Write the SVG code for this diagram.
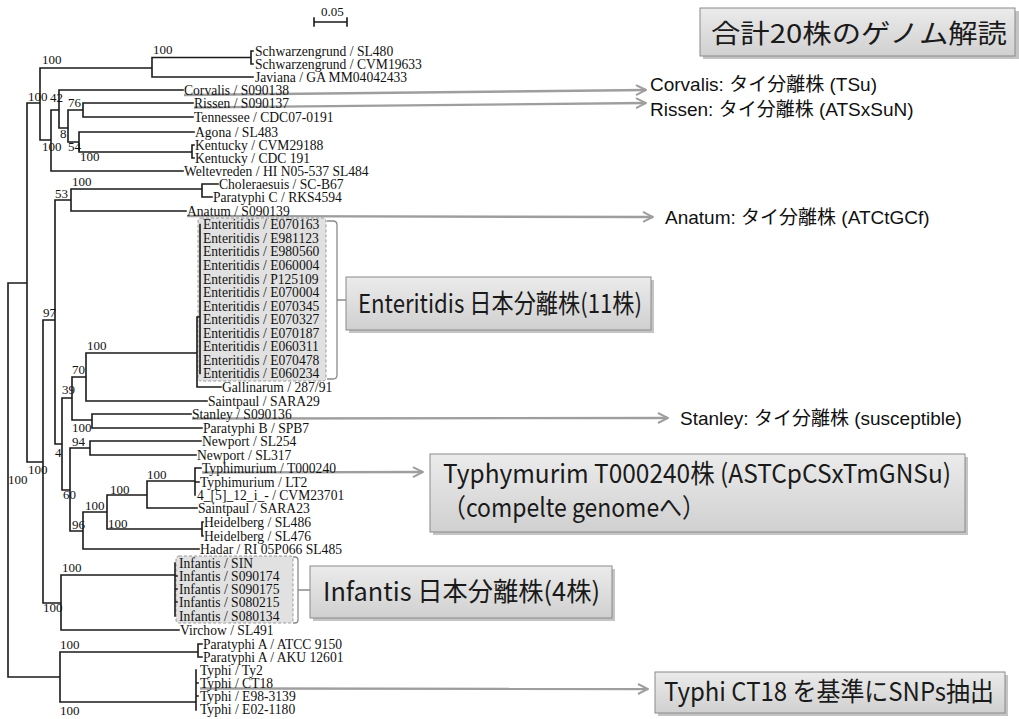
<svg xmlns="http://www.w3.org/2000/svg" width="1019" height="719" viewBox="0 0 1019 719">
<style>
.br{stroke:#1a1a1a;stroke-width:1.6;fill:none;stroke-linecap:square}
.lf{font-family:"Liberation Serif","DejaVu Serif",serif;font-size:13.6px;fill:#111}
.bs{font-family:"Liberation Serif","DejaVu Serif",serif;font-size:13px;fill:#111}
.ar{stroke:#9e9e9e;stroke-width:2.4;fill:none;marker-end:url(#ah)}
.rl{font-family:"Liberation Sans","Noto Sans CJK JP",sans-serif;font-size:19px;fill:#111}
.bx{fill:url(#g);stroke:#8a8a8a;stroke-width:1}
.sh{fill:#c4c4c4}
.bt{font-family:"Noto Sans CJK JP",sans-serif;font-size:26px;fill:#1a1a1a}
.hl{fill:#e1e1e1;stroke:#9a9a9a;stroke-width:1;stroke-dasharray:3 2}
.bk{fill:none;stroke:#8a8a8a;stroke-width:1.3}
</style>
<defs>
<linearGradient id="g" x1="0" y1="0" x2="0" y2="1">
<stop offset="0" stop-color="#ebebeb"/>
<stop offset="1" stop-color="#d0d0d0"/>
</linearGradient>
<marker id="ah" viewBox="0 0 12 12" refX="11" refY="6" markerWidth="12" markerHeight="12" markerUnits="userSpaceOnUse" orient="auto">
<path d="M1,1 L11,6 L1,11" fill="none" stroke="#9e9e9e" stroke-width="2"/>
</marker>
</defs>
<rect width="1019" height="719" fill="#ffffff"/>

<g id="highlights">
<rect class="hl" x="198" y="218" width="128" height="163" rx="3"/>
<path class="bk" d="M327,221 H333 Q337,221 337,225 V375 Q337,379 333,379 H327 M337,300 H346"/>
<rect class="hl" x="176" y="556" width="117" height="67" rx="3"/>
<path class="bk" d="M293,557 H295 Q298,557 298,560 V620 Q298,623 295,623 H293 M298,590 H310"/>
</g>

<g id="scale">
<path class="br" d="M314,22 H347 M314,18 V26 M347,18 V26" stroke-width="1.2"/>
<text class="bs" x="321" y="16" font-size="11">0.05</text>
</g>

<g id="connectors">
<path class="br" d="M8,283 V677 M8,283 H27 M8,677 H60
M27,103 V462 M27,103 H40 M27,462 H43
M40,68 V140 M40,68 H152 M40,140 H51
M152,57.5 V77 M152,57.5 H251 M152,77 H253
M251,51 V64 M251,51 H253 M251,64 H253
M51,110 V171 M51,110 H59 M51,171 H183
M59,90 V128 M59,90 H183 M59,128 H68
M68,110 V142 M68,110 H83 M68,142 H79
M83,103 V117 M83,103 H193 M83,117 H193
M79,132 V152 M79,132 H194 M79,152 H192
M192,145 V158 M192,145 H194 M192,158 H194
M43,320 V603 M43,320 H55 M43,603 H61
M55,200 V444 M55,200 H71 M55,444 H62
M71,189 V211 M71,189 H202 M71,211 H186
M202,184 V197 M202,184 H218 M202,197 H212
M62,398 V490 M62,398 H72 M62,490 H70
M72,377 V420 M72,377 H86 M72,420 H92
M86,353 V401 M86,353 H197 M86,401 H207
M197,317 V387 M197,317 H200 M197,387 H221
M200,224.5 V373.5
M92,414 V428 M92,414 H191 M92,428 H202
M70,448 V531 M70,448 H90 M70,531 H83
M90,441 V455 M90,441 H201 M90,455 H196
M83,512 V549 M83,512 H107 M83,549 H199
M107,495 V529 M107,495 H147 M107,529 H202
M147,481 V508 M147,481 H195 M147,508 H197
M195,468 V495 M195,468 H201 M195,482 H199
M202,522 V536 M202,522 H203 M202,536 H203
M61,575 V630 M61,575 H175 M61,630 H179
M175,563 V616 M175,576 H177 M175,589 H177 M175,602 H177
M60,652 V702 M60,652 H198 M60,702 H196
M198,644 V657 M198,644 H202 M198,657 H202
M196,670 V710 M196,683 H198 M196,696 H198"/>
<path class="ar" d="M184,95 L646,90"/>
<path class="ar" d="M194,107.5 L646,103"/>
<path class="ar" d="M187,216 L653,217"/>
<path class="ar" d="M192,418.5 L668,418"/>
<path class="ar" d="M202,472.5 L423,472"/>
<path class="ar" d="M200,688.5 L648,689"/>
</g>

<g id="support">
<text class="bs" x="153" y="54">100</text>
<text class="bs" x="42" y="64">100</text>
<text class="bs" x="28" y="101">100</text>
<text class="bs" x="50" y="102">42</text>
<text class="bs" x="68" y="107">76</text>
<text class="bs" x="60" y="138">8</text>
<text class="bs" x="68" y="151">54</text>
<text class="bs" x="42" y="151">100</text>
<text class="bs" x="80" y="161">100</text>
<text class="bs" x="72" y="186">100</text>
<text class="bs" x="55" y="198">53</text>
<text class="bs" x="43" y="317">97</text>
<text class="bs" x="87" y="350">100</text>
<text class="bs" x="72" y="374">70</text>
<text class="bs" x="62" y="394">39</text>
<text class="bs" x="72" y="432">100</text>
<text class="bs" x="72" y="446">94</text>
<text class="bs" x="55" y="457">4</text>
<text class="bs" x="28" y="474">100</text>
<text class="bs" x="8" y="484">100</text>
<text class="bs" x="147" y="479">100</text>
<text class="bs" x="110" y="494">100</text>
<text class="bs" x="63" y="499">60</text>
<text class="bs" x="85" y="510">100</text>
<text class="bs" x="72" y="529">96</text>
<text class="bs" x="108" y="528">100</text>
<text class="bs" x="62" y="572">100</text>
<text class="bs" x="43" y="612">100</text>
<text class="bs" x="60" y="649">100</text>
<text class="bs" x="60" y="715">100</text>
</g>

<g id="leaves">
<g id="leaf-01"><text class="lf" x="255" y="55.8">Schwarzengrund / SL480</text></g>
<g id="leaf-02"><text class="lf" x="255" y="68.8">Schwarzengrund / CVM19633</text></g>
<g id="leaf-03"><text class="lf" x="255" y="81.8">Javiana / GA MM04042433</text></g>
<g id="leaf-04"><text class="lf" x="184" y="94.8">Corvalis / S090138</text></g>
<g id="leaf-05"><text class="lf" x="194" y="107.8">Rissen / S090137</text></g>
<g id="leaf-06"><text class="lf" x="194" y="121.8">Tennessee / CDC07-0191</text></g>
<g id="leaf-07"><text class="lf" x="195" y="136.8">Agona / SL483</text></g>
<g id="leaf-08"><text class="lf" x="195" y="149.8">Kentucky / CVM29188</text></g>
<g id="leaf-09"><text class="lf" x="195" y="162.8">Kentucky / CDC 191</text></g>
<g id="leaf-10"><text class="lf" x="184" y="175.8">Weltevreden / HI N05-537 SL484</text></g>
<g id="leaf-11"><text class="lf" x="219" y="188.8">Choleraesuis / SC-B67</text></g>
<g id="leaf-12"><text class="lf" x="213" y="201.8">Paratyphi C / RKS4594</text></g>
<g id="leaf-13"><text class="lf" x="187" y="215.8">Anatum / S090139</text></g>
<g id="leaf-14"><text class="lf" x="203" y="229.3">Enteritidis / E070163</text></g>
<g id="leaf-15"><text class="lf" x="203" y="242.8">Enteritidis / E981123</text></g>
<g id="leaf-16"><text class="lf" x="203" y="256.4">Enteritidis / E980560</text></g>
<g id="leaf-17"><text class="lf" x="203" y="269.9">Enteritidis / E060004</text></g>
<g id="leaf-18"><text class="lf" x="203" y="283.5">Enteritidis / P125109</text></g>
<g id="leaf-19"><text class="lf" x="203" y="297.0">Enteritidis / E070004</text></g>
<g id="leaf-20"><text class="lf" x="203" y="310.5">Enteritidis / E070345</text></g>
<g id="leaf-21"><text class="lf" x="203" y="324.1">Enteritidis / E070327</text></g>
<g id="leaf-22"><text class="lf" x="203" y="337.6">Enteritidis / E070187</text></g>
<g id="leaf-23"><text class="lf" x="203" y="351.2">Enteritidis / E060311</text></g>
<g id="leaf-24"><text class="lf" x="203" y="364.7">Enteritidis / E070478</text></g>
<g id="leaf-25"><text class="lf" x="203" y="378.3">Enteritidis / E060234</text></g>
<g id="leaf-26"><text class="lf" x="222" y="391.8">Gallinarum / 287/91</text></g>
<g id="leaf-27"><text class="lf" x="208" y="405.8">Saintpaul / SARA29</text></g>
<g id="leaf-28"><text class="lf" x="192" y="418.8">Stanley / S090136</text></g>
<g id="leaf-29"><text class="lf" x="203" y="432.8">Paratyphi B / SPB7</text></g>
<g id="leaf-30"><text class="lf" x="202" y="445.8">Newport / SL254</text></g>
<g id="leaf-31"><text class="lf" x="197" y="459.8">Newport / SL317</text></g>
<g id="leaf-32"><text class="lf" x="202" y="472.8">Typhimurium / T000240</text></g>
<g id="leaf-33"><text class="lf" x="200" y="486.8">Typhimurium / LT2</text></g>
<g id="leaf-34"><text class="lf" x="197" y="499.8">4_[5]_12_i_- / CVM23701</text></g>
<g id="leaf-35"><text class="lf" x="198" y="512.8">Saintpaul / SARA23</text></g>
<g id="leaf-36"><text class="lf" x="204" y="526.8">Heidelberg / SL486</text></g>
<g id="leaf-37"><text class="lf" x="204" y="540.8">Heidelberg / SL476</text></g>
<g id="leaf-38"><text class="lf" x="200" y="553.8">Hadar / RI 05P066 SL485</text></g>
<g id="leaf-39"><text class="lf" x="179" y="567.8">Infantis / SIN</text></g>
<g id="leaf-40"><text class="lf" x="179" y="580.8">Infantis / S090174</text></g>
<g id="leaf-41"><text class="lf" x="179" y="593.8">Infantis / S090175</text></g>
<g id="leaf-42"><text class="lf" x="179" y="606.8">Infantis / S080215</text></g>
<g id="leaf-43"><text class="lf" x="179" y="620.8">Infantis / S080134</text></g>
<g id="leaf-44"><text class="lf" x="180" y="634.8">Virchow / SL491</text></g>
<g id="leaf-45"><text class="lf" x="203" y="648.8">Paratyphi A / ATCC 9150</text></g>
<g id="leaf-46"><text class="lf" x="203" y="661.8">Paratyphi A / AKU 12601</text></g>
<g id="leaf-47"><text class="lf" x="200" y="674.8">Typhi / Ty2</text></g>
<g id="leaf-48"><text class="lf" x="200" y="687.8">Typhi / CT18</text></g>
<g id="leaf-49"><text class="lf" x="200" y="700.8">Typhi / E98-3139</text></g>
<g id="leaf-50"><text class="lf" x="200" y="714.3">Typhi / E02-1180</text></g>
</g>

<g id="title-box">
<rect class="sh" x="703" y="11" width="316" height="48"/>
<rect class="bx" x="700" y="8" width="315" height="48"/>
<text class="bt" x="711" y="43" font-size="29" textLength="296" lengthAdjust="spacingAndGlyphs">合計20株のゲノム解読</text>
</g>

<g id="label-corvalis"><text class="rl" x="650" y="91">Corvalis: タイ分離株 (TSu)</text></g>
<g id="label-rissen"><text class="rl" x="650" y="116">Rissen: タイ分離株 (ATSxSuN)</text></g>
<g id="label-anatum"><text class="rl" x="665" y="224">Anatum: タイ分離株 (ATCtGCf)</text></g>
<g id="label-stanley"><text class="rl" x="680" y="425">Stanley: タイ分離株 (susceptible)</text></g>

<g id="box-enteritidis">
<rect class="sh" x="349" y="280" width="305" height="53"/>
<rect class="bx" x="346" y="277" width="305" height="53"/>
<text class="bt" x="358" y="313" textLength="284" lengthAdjust="spacingAndGlyphs">Enteritidis 日本分離株(11株)</text>
</g>

<g id="box-typhimurium">
<rect class="sh" x="433" y="457" width="535" height="78"/>
<rect class="bx" x="430" y="454" width="535" height="78"/>
<text class="bt" x="443" y="483" textLength="508" lengthAdjust="spacingAndGlyphs">Typhymurim T000240株 (ASTCpCSxTmGNSu)</text>
<text class="bt" x="443" y="517" textLength="262" lengthAdjust="spacingAndGlyphs">（compelte genomeへ）</text>
</g>

<g id="box-infantis">
<rect class="sh" x="313" y="569" width="302" height="52"/>
<rect class="bx" x="310" y="566" width="302" height="52"/>
<text class="bt" x="323" y="601" textLength="277" lengthAdjust="spacingAndGlyphs">Infantis 日本分離株(4株)</text>
</g>

<g id="box-typhi">
<rect class="sh" x="658" y="675" width="350" height="41"/>
<rect class="bx" x="655" y="672" width="350" height="41"/>
<text class="bt" x="664" y="701" font-size="22" textLength="330" lengthAdjust="spacingAndGlyphs">Typhi CT18 を基準にSNPs抽出</text>
</g>
</svg>
